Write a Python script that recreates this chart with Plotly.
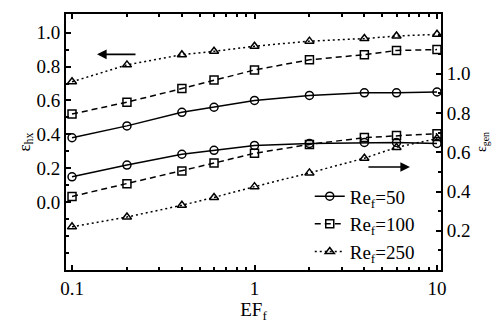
import plotly.graph_objects as go

ef = [0.1, 0.2, 0.4, 0.6, 1, 2, 4, 6, 10]

# epsilon_hx (left axis)
hx_re50 = [0.38, 0.45, 0.53, 0.56, 0.60, 0.63, 0.645, 0.645, 0.65]
hx_re100 = [0.52, 0.59, 0.67, 0.72, 0.78, 0.84, 0.87, 0.895, 0.90]
hx_re250 = [0.71, 0.81, 0.87, 0.89, 0.92, 0.95, 0.965, 0.98, 0.99]

# epsilon_gen (right axis)
gen_re50 = [0.475, 0.535, 0.59, 0.61, 0.635, 0.645, 0.65, 0.65, 0.645]
gen_re100 = [0.375, 0.44, 0.505, 0.545, 0.595, 0.64, 0.675, 0.685, 0.695]
gen_re250 = [0.22, 0.27, 0.33, 0.37, 0.425, 0.495, 0.57, 0.625, 0.67]

labels = ["Re<sub>f</sub>=50", "Re<sub>f</sub>=100", "Re<sub>f</sub>=250"]
dashes = ["solid", "6px,4px", "2px,3px"]
symbols = ["circle-open", "square-open", "triangle-up-open"]

FONT = "Liberation Serif"
fig = go.Figure()
for i, (h, g) in enumerate([(hx_re50, gen_re50), (hx_re100, gen_re100), (hx_re250, gen_re250)]):
    fig.add_trace(go.Scatter(x=ef, y=h, mode="lines+markers", name=labels[i],
                             line=dict(color="black", width=1.5, dash=dashes[i]),
                             marker=dict(symbol=symbols[i], size=8, color="black",
                                         line=dict(width=1.5, color="black")),
                             showlegend=False))
    fig.add_trace(go.Scatter(x=ef, y=g, mode="lines+markers", name=labels[i], yaxis="y2",
                             legendgroup=f"g{i}",
                             line=dict(color="black", width=1.5, dash=dashes[i]),
                             marker=dict(symbol=symbols[i], size=8, color="black",
                                         line=dict(width=1.5, color="black"))))

fig.update_layout(
    width=502, height=326,
    margin=dict(l=66, r=61, t=12, b=54),
    paper_bgcolor="white", plot_bgcolor="white",
    font=dict(family=FONT, size=19, color="black"),
    xaxis=dict(type="log", range=[-1.033, 1.022], showgrid=False, zeroline=False,
               showline=True, linecolor="black", linewidth=1.8, mirror="ticks",
               ticks="inside", ticklen=5, tickcolor="black", tickwidth=1.5,
               tickvals=[0.1, 1, 10], ticktext=["0.1", "1", "10"],
               minor=dict(ticks="inside", ticklen=3, tickcolor="black",
                          tickvals=[0.2, 0.3, 0.4, 0.5, 0.6, 0.7, 0.8, 0.9,
                                    2, 3, 4, 5, 6, 7, 8, 9]),
               title=dict(text="EF<sub>f</sub>", font=dict(size=19), standoff=2)),
    yaxis=dict(range=[-0.40, 1.11], showgrid=False, zeroline=False,
               showline=True, linecolor="black", linewidth=1.8,
               ticks="inside", ticklen=5, tickcolor="black", tickwidth=1.5,
               tickvals=[0, 0.2, 0.4, 0.6, 0.8, 1.0], ticktext=["0.0", "0.2", "0.4", "0.6", "0.8", "1.0"],
               minor=dict(ticks="inside", ticklen=3, tickcolor="black",
                          tickvals=[-0.3, -0.2, -0.1, 0.1, 0.3, 0.5, 0.7, 0.9]),
               title=dict(text="ε<sub>hx</sub>", font=dict(size=17), standoff=2)),
    yaxis2=dict(overlaying="y", side="right", range=[0.0, 1.305], showgrid=False, zeroline=False,
                showline=True, linecolor="black", linewidth=1.8,
                ticks="inside", ticklen=5, tickcolor="black", tickwidth=1.5,
                tickvals=[0.2, 0.4, 0.6, 0.8, 1.0], ticktext=["0.2", "0.4", "0.6", "0.8", "1.0"],
                minor=dict(ticks="inside", ticklen=3, tickcolor="black",
                           tickvals=[0.1, 0.3, 0.5, 0.7, 0.9, 1.1, 1.2]),
                title=dict(text="ε<sub>gen</sub>", font=dict(size=14), standoff=6)),
    legend=dict(x=0.65, y=-0.005, xanchor="left", yanchor="bottom",
                bgcolor="rgba(0,0,0,0)", font=dict(size=19, family=FONT),
                tracegroupgap=0, itemwidth=30),
    annotations=[
        dict(x=-0.863, y=0.872, ax=-0.644, ay=0.872, xref="x", yref="y", axref="x", ayref="y",
             text="", showarrow=True, arrowhead=2, arrowsize=1.2, arrowwidth=1.6, arrowcolor="black"),
        dict(x=0.852, y=0.525, ax=0.616, ay=0.525, xref="x", yref="y2", axref="x", ayref="y2",
             text="", showarrow=True, arrowhead=2, arrowsize=1.2, arrowwidth=1.6, arrowcolor="black"),
    ],
)

fig.write_html("out.html", config={"displayModeBar": False},
               post_script="document.body.style.margin='0';")
